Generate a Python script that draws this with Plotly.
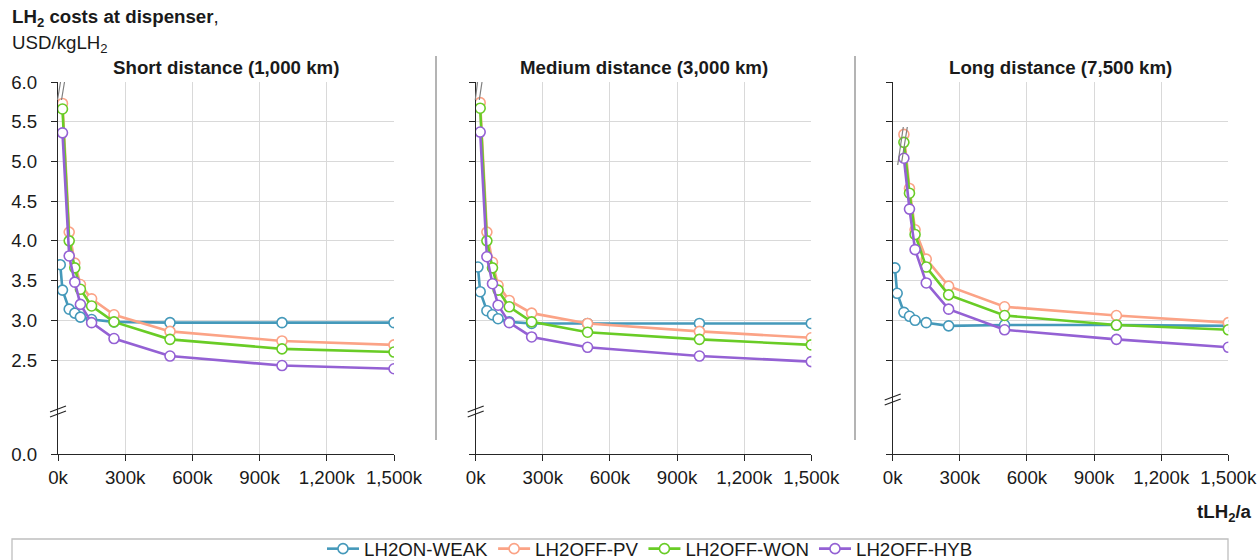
import plotly.graph_objects as go

W, H = 1258, 560
FONT = "Liberation Sans, Arial, sans-serif"

# ---------------- data (x in thousand tLH2/a, y in USD/kgLH2) ----------------
X_ALL = [10, 20, 50, 75, 100, 150, 250, 500, 1000, 1500]
X_FROM20 = X_ALL[1:]
X_FROM50 = X_ALL[2:]

series_names = ["LH2ON-WEAK", "LH2OFF-PV", "LH2OFF-WON", "LH2OFF-HYB"]
series_colors = ["#4599BA", "#FBA386", "#69CC26", "#9461D4"]

short_weak = [3.70, 3.38, 3.14, 3.09, 3.04, 3.01, 2.98, 2.97, 2.97, 2.97]
short_pv = [5.73, 4.11, 3.72, 3.45, 3.27, 3.07, 2.86, 2.74, 2.69]
short_won = [5.66, 4.00, 3.66, 3.39, 3.18, 2.98, 2.76, 2.64, 2.60]
short_hyb = [5.36, 3.81, 3.48, 3.20, 2.97, 2.77, 2.55, 2.43, 2.39]

medium_weak = [3.67, 3.36, 3.12, 3.07, 3.02, 2.98, 2.96, 2.96, 2.96, 2.96]
medium_pv = [5.74, 4.11, 3.73, 3.44, 3.25, 3.09, 2.96, 2.86, 2.78]
medium_won = [5.67, 4.00, 3.66, 3.38, 3.17, 2.98, 2.85, 2.76, 2.69]
medium_hyb = [5.37, 3.80, 3.46, 3.19, 2.97, 2.79, 2.66, 2.55, 2.48]

long_weak = [3.66, 3.34, 3.10, 3.05, 3.00, 2.97, 2.93, 2.94, 2.94, 2.93]
long_pv = [5.34, 4.66, 4.14, 3.77, 3.43, 3.17, 3.06, 2.97]
long_won = [5.24, 4.60, 4.08, 3.67, 3.32, 3.06, 2.94, 2.88]
long_hyb = [5.04, 4.40, 3.89, 3.47, 3.14, 2.88, 2.76, 2.66]

panel_titles = ["Short distance (1,000 km)", "Medium distance (3,000 km)", "Long distance (7,500 km)"]
panels = [
    [(X_ALL, short_weak), (X_FROM20, short_pv), (X_FROM20, short_won), (X_FROM20, short_hyb)],
    [(X_ALL, medium_weak), (X_FROM20, medium_pv), (X_FROM20, medium_won), (X_FROM20, medium_hyb)],
    [(X_ALL, long_weak), (X_FROM50, long_pv), (X_FROM50, long_won), (X_FROM50, long_hyb)],
]

y_ticks = [2.5, 3.0, 3.5, 4.0, 4.5, 5.0, 5.5, 6.0]
x_ticks = [0, 300, 600, 900, 1200, 1500]
x_ticktext = ["0k", "300k", "600k", "900k", "1,200k", "1,500k"]

# ---------------- layout geometry (pixels) ----------------
panel_x = [(58, 394), (475.7, 811.3), (892.7, 1228.3)]
Y_TOP, Y_BREAK, Y_ZERO = 82, 412, 454
PX_PER_UNIT = (360 - 82) / 3.5
upper_ymin = 6.0 - (Y_BREAK - Y_TOP) / PX_PER_UNIT
lower_ymax = (Y_ZERO - Y_BREAK) / PX_PER_UNIT


def px(x):
    return x / W


def py(y):
    return 1 - y / H


GRID = "#D9D9D9"
AXIS = "#262626"
TXT = "#1a1a1a"

fig = go.Figure()
layout = {}

for i, (series, title) in enumerate(zip(panels, panel_titles)):
    up = 2 * i + 1
    lo = 2 * i + 2
    xa_up = "x" if up == 1 else f"x{up}"
    ya_up = "y" if up == 1 else f"y{up}"
    xa_lo = f"x{lo}"
    ya_lo = f"y{lo}"
    dom = [px(panel_x[i][0]), px(panel_x[i][1])]

    for k, (xs, ys) in enumerate(series):
        fig.add_trace(go.Scatter(
            x=xs, y=ys, mode="lines+markers", name=series_names[k],
            legendgroup=series_names[k], showlegend=(i == 0),
            line=dict(color=series_colors[k], width=2.6),
            marker=dict(symbol="circle", size=10, color="white",
                        line=dict(color=series_colors[k], width=1.6)),
            xaxis=xa_up, yaxis=ya_up,
        ))
    # empty trace to make lower subplot exist
    fig.add_trace(go.Scatter(x=[None], y=[None], xaxis=xa_lo, yaxis=ya_lo,
                             showlegend=False, hoverinfo="skip"))

    key_xu = "xaxis" if up == 1 else f"xaxis{up}"
    key_yu = "yaxis" if up == 1 else f"yaxis{up}"
    layout[key_xu] = dict(domain=dom, range=[0, 1500], anchor=ya_up,
                          tickvals=x_ticks, showticklabels=False, ticks="",
                          showgrid=True, gridcolor=GRID, gridwidth=1,
                          showline=False, zeroline=False, fixedrange=True,
                          automargin=False)
    layout[key_yu] = dict(domain=[py(Y_BREAK), py(Y_TOP)], range=[upper_ymin, 6.0],
                          anchor=xa_up, tickvals=y_ticks, tickformat=".1f",
                          showticklabels=(i == 0), ticks="outside", ticklen=6,
                          tickcolor=AXIS, showline=True, linecolor=AXIS, linewidth=1.3,
                          showgrid=True, gridcolor=GRID, gridwidth=1, zeroline=False,
                          ticklabelstandoff=10, automargin=False,
                          tickfont=dict(family=FONT, size=18.7, color=TXT))
    layout[f"xaxis{lo}"] = dict(domain=dom, range=[0, 1500], anchor=ya_lo,
                                tickvals=x_ticks, ticktext=x_ticktext,
                                ticks="outside", ticklen=6, tickcolor=AXIS,
                                showline=True, linecolor=AXIS, linewidth=1.3,
                                showgrid=True, gridcolor=GRID, gridwidth=1,
                                zeroline=False, automargin=False,
                                tickfont=dict(family=FONT, size=18.7, color=TXT))
    layout[f"yaxis{lo}"] = dict(domain=[py(Y_ZERO), py(Y_BREAK)], range=[0, lower_ymax],
                                anchor=xa_lo, tickvals=[0], ticktext=["0.0"],
                                showticklabels=(i == 0), ticks="outside", ticklen=6,
                                tickcolor=AXIS, showline=True, linecolor=AXIS, linewidth=1.3,
                                showgrid=False, zeroline=False, ticklabelstandoff=10,
                                automargin=False,
                                tickfont=dict(family=FONT, size=18.7, color=TXT))

annotations = []
centers = [(a + b) / 2 for a, b in panel_x]
for c, t in zip(centers, panel_titles):
    annotations.append(dict(text=f"<b>{t}</b>", x=px(c), y=py(67), xref="paper", yref="paper",
                            xanchor="center", yanchor="middle", showarrow=False,
                            font=dict(family=FONT, size=18.7, color=TXT)))
annotations.append(dict(text="<b>LH<sub>2</sub> costs at dispenser</b>,", x=px(10), y=py(18),
                        xref="paper", yref="paper", xanchor="left", yanchor="middle",
                        showarrow=False, font=dict(family=FONT, size=18.7, color=TXT)))
annotations.append(dict(text="USD/kgLH<sub>2</sub>", x=px(10), y=py(44),
                        xref="paper", yref="paper", xanchor="left", yanchor="middle",
                        showarrow=False, font=dict(family=FONT, size=18.7, color=TXT)))
annotations.append(dict(text="<b>tLH<sub>2</sub>/a</b>", x=px(1254), y=py(513),
                        xref="paper", yref="paper", xanchor="right", yanchor="middle",
                        showarrow=False, font=dict(family=FONT, size=18.7, color=TXT)))

shapes = []
# separators between panels
for sx in (436, 855):
    shapes.append(dict(type="line", xref="paper", yref="paper", x0=px(sx), x1=px(sx),
                       y0=py(56), y1=py(440), line=dict(color="#8C8C8C", width=1.3)))
# axis break marks on y axes
for (x0, _), yb in zip(panel_x, (412, 412, 400)):
    for dy in (-3, 2):
        shapes.append(dict(type="line", xref="paper", yref="paper",
                           x0=px(x0 - 8), x1=px(x0 + 8), y0=py(yb + dy + 3), y1=py(yb + dy - 3),
                           line=dict(color=AXIS, width=1.2)))
# line-break marks near top of curves
top_breaks = [
    [((57.5, 100), (60.5, 82)), ((61.5, 100), (64.5, 82))],
    [((475.3, 100), (477.5, 82)), ((479.3, 100), (482, 82))],
    [((897.7, 165), (903.3, 127)), ((901.7, 162), (907.3, 127))],
]
for pair in top_breaks:
    for (a, b) in pair:
        shapes.append(dict(type="line", xref="paper", yref="paper",
                           x0=px(a[0]), y0=py(a[1]), x1=px(b[0]), y1=py(b[1]),
                           line=dict(color="#7F7F7F", width=1.2)))
# legend frame
shapes.append(dict(type="rect", xref="paper", yref="paper", x0=px(12), x1=px(1228),
                   y0=py(575), y1=py(539), line=dict(color="#BFBFBF", width=1.3),
                   fillcolor="rgba(0,0,0,0)"))

fig.update_layout(
    width=W, height=H,
    margin=dict(l=0, r=0, t=0, b=0, pad=0, autoexpand=False),
    paper_bgcolor="white", plot_bgcolor="white",
    font=dict(family=FONT, size=18.7, color=TXT),
    showlegend=True,
    legend=dict(orientation="h", x=px(650), xanchor="center", y=py(549), yanchor="middle",
                font=dict(family=FONT, size=18.7, color=TXT), bgcolor="rgba(0,0,0,0)",
                itemwidth=32, tracegroupgap=0),
    annotations=annotations,
    shapes=shapes,
    **layout,
)

fig.write_html("out.html")
